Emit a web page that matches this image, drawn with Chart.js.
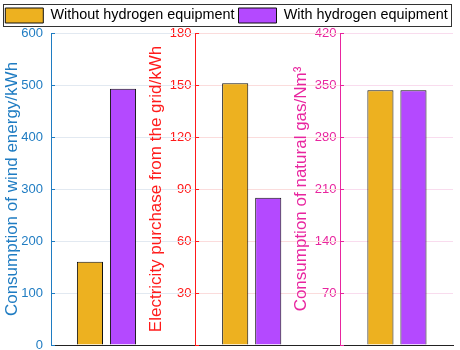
<!DOCTYPE html>
<html>
<head>
<meta charset="utf-8">
<script src="https://cdn.jsdelivr.net/npm/chart.js@4.4.1/dist/chart.umd.min.js"></script>
<style>
html, body { margin: 0; padding: 0; background: #fff; }
#wrap { width: 460px; height: 350px; }
</style>
</head>
<body>
<div id="wrap"><canvas id="chart"></canvas></div>
<script>
// three groups, each one read against its own y axis
const categories = ['Wind energy', 'Grid electricity', 'Natural gas'];
const seriesNames = ['Without hydrogen equipment', 'With hydrogen equipment'];
const withoutHydrogen = [160, 151, 343];
const withHydrogen = [493, 85, 343];
const axisTitles = ['Consumption of wind energy/kWh', 'Electricity purchase from the grid/kWh', 'Consumption of natural gas/Nm³'];
const axisMax = [600, 180, 420];
const axisStep = [100, 30, 70];

const axisIds = ['y1', 'y2', 'y3'];
const axisColors = ['#1f7cc2', '#ff1a1a', '#e8259f'];
const gridColors = ['#e2e9f1', '#fbdcdc', '#f9dcee'];
const barColors = ['#EDB120', '#B449FF'];
const font = '"Liberation Sans", Arial, sans-serif';

let datasets = [];
categories.forEach((cat, i) => {
    [withoutHydrogen, withHydrogen].forEach((vals, s) => {
        datasets.push({
            label: seriesNames[s],
            data: categories.map((c, j) => ({ x: j + 1, y: j === i ? vals[j] : null })),
            yAxisID: axisIds[i],
            backgroundColor: barColors[s],
            borderColor: '#111',
            borderWidth: 1,
            skipNull: true,
            categoryPercentage: 0.455,
            barPercentage: 0.79
        });
    });
});

function yAxis(i, position) {
    return {
        position: position,
        min: 0,
        max: axisMax[i],
        ticks: {
            stepSize: axisStep[i],
            color: axisColors[i],
            font: { family: font, size: 13 },
            padding: 8,
            // only the first axis shows its zero
            callback: (v) => (i > 0 && v === 0) ? '' : (i > 0 ? v + ' ' : v)
        },
        grid: { color: 'transparent', drawTicks: false },
        border: { color: axisColors[i], width: 1 },
        afterFit: (s) => {
            if (i === 0) s.width = 51;
            s.paddingTop = 0;
            s.paddingBottom = 0;
        }
    };
}

function axisPixel(chart, id) {
    const s = chart.scales[id];
    const pos = s.options.position;
    return typeof pos === 'object' ? chart.scales.x.getPixelForValue(pos.x) : s.right;
}

// each axis gets its own grid strip and short inward tick marks
const regionGridPlugin = {
    id: 'regionGrid',
    beforeDatasetsDraw(chart) {
        const { ctx, chartArea, scales } = chart;
        axisIds.forEach((id, i) => {
            const s = scales[id];
            const x0 = axisPixel(chart, id);
            const x1 = i < axisIds.length - 1 ? axisPixel(chart, axisIds[i + 1]) : chartArea.right;
            ctx.save();
            ctx.lineWidth = 1;
            s.ticks.forEach((t) => {
                const y = Math.round(s.getPixelForValue(t.value)) + 0.5;
                if (t.value > 0) {
                    ctx.strokeStyle = gridColors[i];
                    ctx.beginPath();
                    ctx.moveTo(x0, y);
                    ctx.lineTo(x1, y);
                    ctx.stroke();
                }
                ctx.strokeStyle = axisColors[i];
                ctx.beginPath();
                ctx.moveTo(x0, y);
                ctx.lineTo(x0 + 4, y);
                ctx.stroke();
            });
            ctx.restore();
        });
    }
};

// axis titles drawn bottom-to-top next to each axis line
const axisTitlePlugin = {
    id: 'axisTitles',
    afterDraw(chart) {
        const { ctx, chartArea } = chart;
        const midY = (chartArea.top + chartArea.bottom) / 2;
        axisIds.forEach((id, i) => {
            ctx.save();
            ctx.translate(axisPixel(chart, id) - 39, midY);
            ctx.rotate(-Math.PI / 2);
            ctx.font = '17px ' + font;
            ctx.fillStyle = axisColors[i];
            ctx.textAlign = 'center';
            ctx.textBaseline = 'middle';
            ctx.fillText(axisTitles[i], 0, 0);
            ctx.restore();
        });
    }
};

// frame round the legend, legend kept on one row with a fixed height
const legendFramePlugin = {
    id: 'legendFrame',
    beforeInit(chart) {
        const fit = chart.legend.fit;
        chart.legend.fit = function () {
            const w = this.maxWidth;
            this.maxWidth = w + 40;
            fit.bind(this)();
            this.maxWidth = w;
            this.width = w;
            this.height = 29;
        };
    },
    afterDraw(chart) {
        const boxes = chart.legend.legendHitBoxes;
        if (!boxes || !boxes.length) return;
        const first = boxes[0];
        const last = boxes[boxes.length - 1];
        const ctx = chart.ctx;
        ctx.save();
        ctx.strokeStyle = '#333';
        ctx.lineWidth = 1;
        const l = Math.round(first.left) - 1.5;
        const r = Math.round(last.left + last.width) + 3.5;
        const t = Math.round(first.top) - 3.5;
        const b = Math.round(first.top + first.height) + 3.5;
        ctx.strokeRect(l, t, r - l, b - t);
        ctx.restore();
    }
};

let ctx = document.getElementById('chart').getContext('2d');
let chart = new Chart(ctx, {
    type: 'bar',
    data: { datasets: datasets },
    options: {
        responsive: true,
        maintainAspectRatio: false,
        animation: false,
        layout: { padding: { top: 4, right: 7, bottom: 5, left: 0 } },
        plugins: {
            legend: {
                position: 'top',
                labels: {
                    filter: (item) => item.datasetIndex < 2,
                    boxWidth: 38,
                    boxHeight: 15,
                    padding: 4,
                    color: '#000',
                    font: { family: font, size: 14.4 }
                }
            },
            tooltip: { enabled: false }
        },
        scales: {
            x: {
                type: 'linear',
                offset: false,
                min: 0.618,
                max: 3.386,
                grid: { display: false, drawTicks: false },
                ticks: { display: false, stepSize: 10 },
                border: { color: '#222', width: 1 },
                afterFit: (s) => { s.height = 0; }
            },
            y1: yAxis(0, 'left'),
            y2: yAxis(1, { x: 1.61 }),
            y3: yAxis(2, { x: 2.608 })
        }
    },
    plugins: [regionGridPlugin, axisTitlePlugin, legendFramePlugin]
});
</script>
</body>
</html>
